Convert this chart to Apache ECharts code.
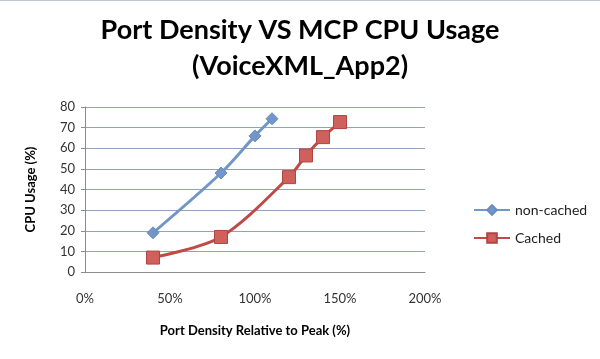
<!DOCTYPE html>
<html><head><meta charset="utf-8">
<script src="https://cdn.jsdelivr.net/npm/echarts@6/dist/echarts.min.js"></script>
<style>html,body{margin:0;padding:0;background:#fff}#c{width:600px;height:359px}</style>
</head><body><div id="c"></div>
<script>
var titleText = 'Port Density VS MCP CPU Usage\n(VoiceXML_App2)';
var xAxisName = 'Port Density Relative to Peak (%)';
var yAxisName = 'CPU Usage (%)';
var nonCachedX = [40, 80, 100, 110];
var nonCachedY = [19, 48, 66, 74.3];
var cachedX = [40, 80, 120, 130, 140, 150];
var cachedY = [7, 17, 46, 56.5, 65.4, 72.7];
var seriesNames = ['non-cached', 'Cached'];

function pairs(xs, ys) { return xs.map(function (x, i) { return [x, ys[i]]; }); }

var chart = echarts.init(document.getElementById('c'));
var font = 'Lato, "Open Sans", sans-serif';
chart.setOption({
  animation: false,
  backgroundColor: '#fff',
  title: {
    text: titleText, left: 'center', top: 7,
    textStyle: { fontFamily: font, fontSize: 27, fontWeight: 'bold', color: '#000', lineHeight: 36 }
  },
  graphic: [{ type: 'line', shape: { x1: 0, y1: 0.5, x2: 600, y2: 0.5 }, style: { stroke: '#c4c8cf', lineWidth: 1 } }],
  grid: { left: 85, right: 175, top: 107, bottom: 87 },
  legend: {
    orient: 'vertical', left: 468, top: 198, itemGap: 14, itemWidth: 36, itemHeight: 12,
    textStyle: { fontFamily: font, fontSize: 14, color: '#222' },
    data: seriesNames
  },
  xAxis: {
    type: 'value', min: 0, max: 200, interval: 50,
    name: xAxisName, nameLocation: 'middle', nameGap: 52,
    nameTextStyle: { fontFamily: font, fontSize: 13, fontWeight: 'bold', color: '#000' },
    axisLine: { show: true, lineStyle: { color: '#8c8c8c' } },
    axisTick: { show: false },
    splitLine: { show: false },
    axisLabel: { formatter: '{value}%', margin: 20, fontFamily: font, fontSize: 13, color: '#333' }
  },
  yAxis: {
    type: 'value', min: 0, max: 80, interval: 10,
    name: yAxisName, nameLocation: 'middle', nameGap: 48, nameRotate: 90,
    nameTextStyle: { fontFamily: font, fontSize: 13, fontWeight: 'bold', color: '#000' },
    axisLine: { show: true, lineStyle: { color: '#8c8c8c' } },
    axisTick: { show: true, length: 4, lineStyle: { color: '#8c8c8c' } },
    splitLine: { show: true, lineStyle: { color: '#8fa3bd' } },
    axisLabel: { margin: 10, fontFamily: font, fontSize: 13, color: '#333' }
  },
  series: [
    {
      name: seriesNames[0], type: 'line', smooth: 0.3, data: pairs(nonCachedX, nonCachedY),
      symbol: 'diamond', symbolSize: 12,
      lineStyle: { color: '#7396c8', width: 3 },
      itemStyle: { color: '#7396c8', borderColor: '#6a8cc0', borderWidth: 1 }
    },
    {
      name: seriesNames[1], type: 'line', smooth: 0.3, data: pairs(cachedX, cachedY),
      symbol: 'rect', symbolSize: 13,
      lineStyle: { color: '#be4b48', width: 3 },
      itemStyle: { color: '#d0605c', borderColor: '#b04440', borderWidth: 1 }
    }
  ]
});
</script></body></html>
